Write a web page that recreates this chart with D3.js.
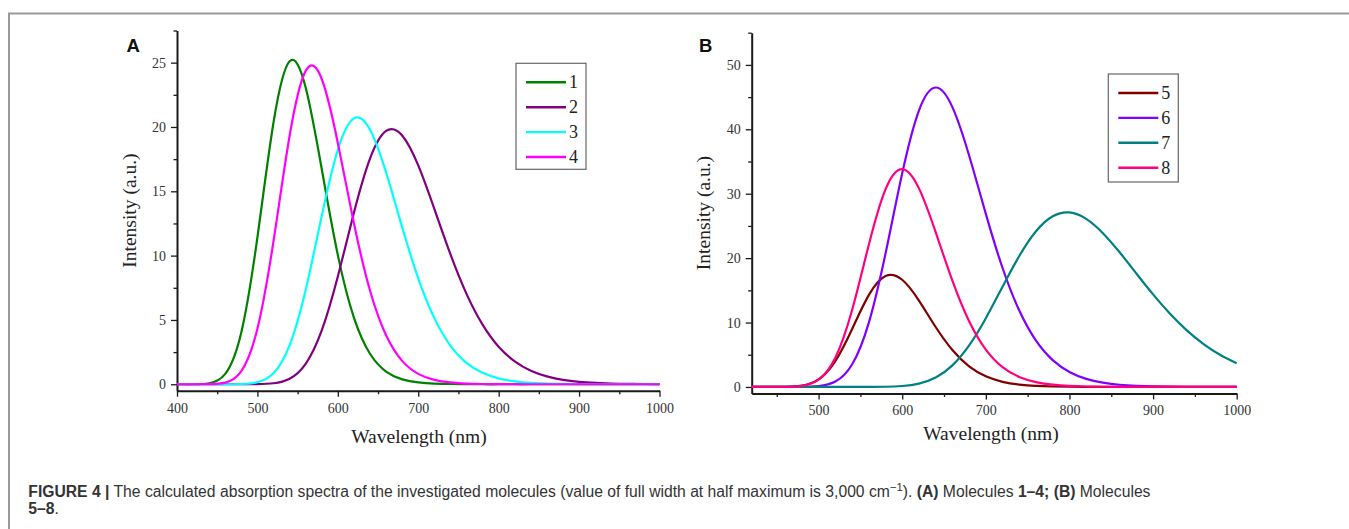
<!DOCTYPE html>
<html>
<head>
<meta charset="utf-8">
<script src="https://d3js.org/d3.v7.min.js"></script>
<style>
  body { margin: 0; background: #fff; }
  svg { display: block; }
</style>
</head>
<body>
<div id="figure"></div>
<script>
// ---- data ----
const wavelengthA = d3.range(400, 1001, 20);
const wavelengthB = d3.range(420, 1001, 20);

const labelsA = ["1", "2", "3", "4"];
const labelsB = ["5", "6", "7", "8"];

// panel A: molecules 1-4 (400..1000 nm, step 20)
const mol1 = [0, 0.003, 0.08, 0.81, 4.05, 11.42, 20.35, 25.11, 23.07, 16.73, 10.04, 5.18, 2.37, 0.99, 0.38, 0.14, 0.05, 0.02, 0.01,
  0, 0, 0, 0, 0, 0, 0, 0, 0, 0, 0, 0];
const mol2 = [0, 0, 0, 0, 0, 0.01, 0.08, 0.43, 1.59, 4.18, 8.37, 13.33, 17.54, 19.69, 19.34, 17.01, 13.63, 10.11, 7.03, 4.64,
  2.92, 1.78, 1.05, 0.61, 0.34, 0.19, 0.11, 0.06, 0.03, 0.02, 0.01];
const mol3 = [0, 0, 0, 0, 0.02, 0.16, 0.86, 3.02, 7.32, 13.09, 18.23, 20.67, 19.79, 16.47, 12.21, 8.24, 5.14, 3.01, 1.67, 0.89,
  0.46, 0.23, 0.11, 0.06, 0.03, 0.01, 0, 0, 0, 0, 0];
const mol4 = [0, 0, 0.01, 0.13, 1.03, 4.32, 11.12, 19.30, 24.36, 23.73, 18.76, 12.52, 7.29, 3.81, 1.82, 0.81, 0.34, 0.14, 0.05, 0.02,
  0.01, 0, 0, 0, 0, 0, 0, 0, 0, 0, 0];

// panel B: molecules 5-8 (420..1000 nm, step 20)
const mol5 = [0, 0, 0.02, 0.21, 1.19, 4.02, 8.96, 14.25, 17.22, 16.64, 13.41, 9.31, 5.74, 3.21, 1.65, 0.80, 0.37, 0.16, 0.07, 0.03,
  0.01, 0, 0, 0, 0, 0, 0, 0, 0, 0];
const mol6 = [0, 0, 0, 0.01, 0.13, 0.84, 3.49, 9.95, 20.69, 33.17, 42.92, 46.49, 43.45, 35.94, 26.87, 18.47, 11.86, 7.18, 4.16, 2.32,
  1.25, 0.66, 0.34, 0.18, 0.09, 0.05, 0.02, 0.01, 0.01, 0];
const mol7 = [0, 0, 0, 0, 0, 0, 0, 0.01, 0.03, 0.15, 0.52, 1.46, 3.35, 6.45, 10.68, 15.57, 20.33, 24.17, 26.50, 27.10,
  26.10, 23.88, 20.91, 17.62, 14.37, 11.40, 8.83, 6.70, 5.00, 3.68];
const mol8 = [0, 0, 0.01, 0.17, 1.13, 4.54, 11.91, 22.05, 30.68, 33.83, 30.83, 24.04, 16.51, 10.21, 5.81, 3.08, 1.55, 0.74, 0.35, 0.16,
  0.07, 0.03, 0.01, 0, 0, 0, 0, 0, 0, 0];

const coloursA = ["#008000", "#800080", "#00ffff", "#ff00ff"];
const coloursB = ["#800000", "#8000ff", "#008080", "#ff0080"];

const W = 1349, H = 529;
const svg = d3.select("#figure").append("svg").attr("width", W).attr("height", H);

// frame of the figure
svg.append("path")
  .attr("d", "M1349,13.5H9V529")
  .attr("fill", "none").attr("stroke", "#9a9a9a").attr("stroke-width", 2);

function panel(p) {
  const x = d3.scaleLinear().domain(p.xDomain).range(p.xRange);
  const y = d3.scaleLinear().domain(p.yDomain).range(p.yRange);
  const g = svg.append("g");
  const axisY = p.yRange[0];
  const axisX = p.xRange[0];

  // minor ticks
  g.append("g").attr("transform", `translate(0,${axisY})`)
    .call(d3.axisBottom(x).tickValues(p.xMinor).tickSize(3.5).tickFormat("").tickSizeOuter(0))
    .call(s => s.select(".domain").remove());
  g.append("g").attr("transform", `translate(${axisX},0)`)
    .call(d3.axisLeft(y).tickValues(p.yMinor).tickSize(3.5).tickFormat("").tickSizeOuter(0))
    .call(s => s.select(".domain").remove());

  // major ticks + axis lines
  g.append("g").attr("transform", `translate(0,${axisY})`)
    .call(d3.axisBottom(x).tickValues(p.xMajor).tickSize(6).tickPadding(6).tickFormat(d3.format("d")).tickSizeOuter(0));
  g.append("g").attr("transform", `translate(${axisX},0)`)
    .call(d3.axisLeft(y).tickValues(p.yMajor).tickSize(6).tickPadding(5).tickFormat(d3.format("d")).tickSizeOuter(0));

  g.selectAll(".domain").attr("stroke", "#1a1a1a").attr("stroke-width", 2);
  g.selectAll(".tick line").attr("stroke", "#1a1a1a").attr("stroke-width", 1.3);
  g.selectAll(".tick text")
    .attr("font-family", "Liberation Serif, Times New Roman, serif")
    .attr("font-size", 14).attr("fill", "#333");

  // curves
  const line = d3.line()
    .x((d, i) => x(p.wavelength[i]))
    .y(d => y(d))
    .curve(d3.curveNatural);
  p.series.forEach((s, i) => {
    g.append("path").datum(s)
      .attr("fill", "none")
      .attr("stroke", p.colours[i])
      .attr("stroke-width", 2.2)
      .attr("stroke-linejoin", "round")
      .attr("d", line);
  });

  // axis titles
  g.append("text")
    .attr("x", p.xTitleX).attr("y", p.xTitleY)
    .attr("text-anchor", "middle")
    .attr("font-family", "Liberation Serif, Times New Roman, serif")
    .attr("font-size", 19.5).attr("fill", "#222")
    .text("Wavelength (nm)");
  g.append("text")
    .attr("transform", `translate(${p.yTitleX},${(p.yRange[0] + p.yRange[1]) / 2}) rotate(-90)`)
    .attr("text-anchor", "middle")
    .attr("font-family", "Liberation Serif, Times New Roman, serif")
    .attr("font-size", 19.5).attr("fill", "#222")
    .text("Intensity (a.u.)");

  // panel letter
  g.append("text")
    .attr("x", p.letterX).attr("y", 51.7)
    .attr("font-family", "Liberation Sans, Arial, sans-serif")
    .attr("font-weight", "bold").attr("font-size", 18.5).attr("fill", "#111")
    .text(p.letter);

  // legend
  const lg = g.append("g").attr("transform", `translate(${p.legend[0]},${p.legend[1]})`);
  lg.append("rect")
    .attr("width", 70).attr("height", p.legendH)
    .attr("fill", "#fff").attr("stroke", "#666").attr("stroke-width", 1.2);
  p.labels.forEach((lab, i) => {
    const yy = 19 + i * 24.9;
    lg.append("line")
      .attr("x1", 10).attr("x2", 50).attr("y1", yy).attr("y2", yy)
      .attr("stroke", p.colours[i]).attr("stroke-width", 2.4);
    lg.append("text")
      .attr("x", 53).attr("y", yy + 6)
      .attr("font-family", "Liberation Serif, Times New Roman, serif")
      .attr("font-size", 18).attr("fill", "#222")
      .text(lab);
  });
}

panel({
  wavelength: wavelengthA,
  series: [mol1, mol2, mol3, mol4],
  colours: coloursA, labels: labelsA,
  xDomain: [400, 1000], xRange: [177, 659.5],
  yDomain: [-0.5, 27.5], yRange: [390.7, 30.5],
  xMajor: d3.range(400, 1001, 100), xMinor: d3.range(450, 1000, 100),
  yMajor: d3.range(0, 26, 5), yMinor: d3.range(2.5, 28, 5),
  xTitleX: 419, xTitleY: 443, yTitleX: 135.5,
  letter: "A", letterX: 126.5,
  legend: [516, 63.3], legendH: 106
});

panel({
  wavelength: wavelengthB,
  series: [mol5, mol6, mol7, mol8],
  colours: coloursB, labels: labelsB,
  xDomain: [420, 1000], xRange: [751.7, 1236.7],
  yDomain: [-1, 55], yRange: [393.4, 32.7],
  xMajor: d3.range(500, 1001, 100), xMinor: d3.range(450, 1000, 100),
  yMajor: d3.range(0, 51, 10), yMinor: d3.range(5, 56, 10),
  xTitleX: 991, xTitleY: 440, yTitleX: 710,
  letter: "B", letterX: 699,
  legend: [1108.3, 74], legendH: 108
});

// caption
const cap = svg.append("g")
  .attr("font-family", "Liberation Sans, Arial, sans-serif")
  .attr("font-size", 16).attr("fill", "#333");
const line1 = cap.append("text").attr("y", 0);
line1.append("tspan").attr("font-weight", "bold").text("FIGURE 4 |");
line1.append("tspan").text(" The calculated absorption spectra of the investigated molecules (value of full width at half maximum is 3,000 cm");
line1.append("tspan").attr("font-size", 11.5).attr("dy", -6).text("\u22121");
line1.append("tspan").attr("dy", 6).text("). ");
line1.append("tspan").attr("font-weight", "bold").text("(A)");
line1.append("tspan").text(" Molecules ");
line1.append("tspan").attr("font-weight", "bold").text("1\u20134; (B)");
line1.append("tspan").text(" Molecules");
const line2 = cap.append("text").attr("y", 0);
line2.append("tspan").attr("font-weight", "bold").text("5\u20138");
line2.append("tspan").text(".");

const targetW = 1151 - 28.3;
const sx = targetW / line1.node().getComputedTextLength();
line1.attr("transform", `translate(28.3,496.8) scale(${sx},1)`);
line2.attr("transform", `translate(28.3,514.3) scale(${sx},1)`);
</script>
</body>
</html>
